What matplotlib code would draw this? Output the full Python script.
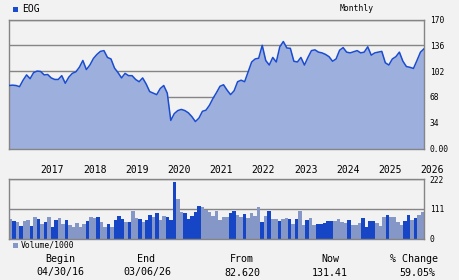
import matplotlib
matplotlib.use("Agg")
import matplotlib.pyplot as plt
import matplotlib.transforms as mtransforms
from matplotlib.patches import Rectangle
import numpy as np

# ---------------- data (monthly, Apr 2016 .. Mar 2026) ----------------
price = [83, 83.5, 83, 81.5, 90, 97, 92, 100, 102, 101.5, 97, 97.5,
         93, 91, 91, 96, 86, 94, 99, 101, 107, 116, 104, 110,
         118.6, 124, 128, 129, 120, 118, 106, 100, 93, 99, 96, 96,
         91, 88, 93, 85, 75, 73, 71, 79, 83, 73, 37, 46,
         50, 51.5, 50, 47, 42, 35.5, 40, 49, 50.5, 57, 66, 73.7,
         82, 84, 77, 71, 76, 88, 90, 88, 101, 114, 118, 119,
         136, 116, 110, 120, 114, 134, 141, 132.5, 132, 115, 114, 120,
         110, 120, 129, 130, 127, 126, 124, 121, 115, 118, 129.5, 133,
         127, 126, 127.5, 129, 126, 127, 134, 123, 126, 127, 128, 113,
         110, 118, 121, 127, 115, 108, 107, 105.5, 116, 127, 131.41]

volume = [74, 67, 63, 47, 67, 70, 47, 81, 74, 55, 62, 81,
          44, 70, 77, 55, 70, 51, 44, 59, 44, 55, 67, 81,
          77, 81, 62, 44, 55, 44, 70, 85, 74, 62, 62, 104,
          77, 74, 62, 70, 89, 81, 96, 70, 85, 81, 70, 212,
          149, 100, 96, 74, 85, 100, 122, 119, 107, 100, 85, 104,
          70, 81, 81, 96, 104, 89, 81, 92, 77, 96, 85, 119,
          62, 85, 104, 74, 74, 66, 74, 77, 74, 55, 74, 104,
          51, 70, 77, 51, 55, 55, 60, 66, 66, 66, 74, 62,
          58, 70, 51, 51, 59, 77, 44, 66, 66, 59, 47, 81,
          89, 81, 81, 62, 51, 66, 89, 70, 77, 89, 100]

# 1 = dark bar, 0 = light bar
volume_dark = [0, 1, 0, 1, 0, 0, 1, 0, 1, 0, 1, 0,
               1, 1, 0, 0, 1, 0, 0, 0, 0, 0, 1, 0,
               0, 1, 0, 0, 1, 0, 1, 1, 1, 0, 1, 0,
               0, 1, 0, 1, 1, 0, 1, 0, 0, 1, 1, 1,
               0, 0, 1, 1, 1, 1, 1, 0, 0, 0, 0, 0,
               0, 0, 0, 1, 1, 0, 0, 1, 0, 0, 0, 0,
               1, 0, 1, 0, 0, 1, 0, 0, 1, 0, 1, 0,
               0, 1, 0, 0, 1, 1, 1, 1, 1, 0, 0, 0,
               0, 1, 0, 0, 0, 1, 1, 1, 1, 0, 0, 0,
               1, 0, 0, 0, 0, 1, 1, 0, 1, 0, 0]

years = ['2017', '2018', '2019', '2020', '2021', '2022', '2023', '2024', '2025', '2026']
year_month_index = [9, 21, 33, 45, 57, 69, 81, 93, 105, 117]

price_ticks = [0, 34, 68, 102, 136, 170]
price_tick_labels = ['0.00', '34', '68', '102', '136', '170']
vol_ticks = [0, 111, 222]
vol_tick_labels = ['0', '111', '222']

ticker = 'EOG'
period = 'Monthly'
vol_label = 'Volume/1000'
summary_heads = ['Begin', 'End', 'From', 'Now', '% Change']
summary_vals = ['04/30/16', '03/06/26', '82.620', '131.41', '59.05%']

# ---------------- style ----------------
BG = '#f2f2f2'
LINE = '#1a4cd0'
FILL = '#9dafdd'
DARK = '#1646c6'
LIGHT = '#8597c6'
GRID = '#858585'
MONO = 'DejaVu Sans Mono'

W, H = 460, 280
fig = plt.figure(figsize=(W / 100, H / 100), dpi=100, facecolor=BG)


def rect(l, t, r, b):
    return [l / W, 1 - b / H, (r - l) / W, (b - t) / H]


def fy(py):
    return 1 - py / H


def fx(px):
    return px / W


# ---------------- price axes ----------------
axp = fig.add_axes(rect(9, 19.5, 424, 148.5))
axp.set_facecolor(BG)
x = np.arange(len(price))
axp.fill_between(x, 0, price, color=FILL, lw=0, zorder=2)
axp.plot(x, price, color=LINE, lw=1.1, zorder=3)
axp.set_xlim(0, len(price) - 1)
axp.set_ylim(0, 170)
axp.set_yticks(price_ticks)
axp.set_yticklabels(price_tick_labels, family=MONO, fontsize=5.7)
axp.yaxis.tick_right()
axp.tick_params(axis='y', length=0, pad=4)
axp.set_xticks([])
axp.grid(axis='y', color=GRID, lw=1.0, zorder=1)
axp.set_axisbelow(True)
for s in axp.spines.values():
    s.set_color(GRID)
    s.set_linewidth(1.0)

# year labels (left aligned at year start)
trans = mtransforms.blended_transform_factory(axp.transData, fig.transFigure)
for lab, mi in zip(years, year_month_index):
    axp.text(mi, fy(170), lab, transform=trans, ha='left', va='center',
             family=MONO, fontsize=7, clip_on=False)

# ---------------- volume axes ----------------
axv = fig.add_axes(rect(9, 179.3, 424, 238.7))
axv.set_facecolor(BG)
xv = np.arange(len(volume)) + 0.5
cols = [DARK if d else LIGHT for d in volume_dark]
axv.bar(xv, volume, width=1.0, color=cols, lw=0, zorder=2)
axv.set_xlim(0, len(volume))
axv.set_ylim(0, 222)
axv.set_yticks(vol_ticks)
axv.set_yticklabels(vol_tick_labels, family=MONO, fontsize=5.7)
axv.yaxis.tick_right()
axv.tick_params(axis='y', length=0, pad=4)
axv.set_xticks([])
axv.grid(axis='y', color=GRID, lw=1.0, zorder=1)
axv.set_axisbelow(True)
for s in axv.spines.values():
    s.set_color(GRID)
    s.set_linewidth(1.0)

# ---------------- header / legend ----------------
fig.patches.append(Rectangle((fx(13), fy(11.5)), 4.5 / W, 4.5 / H,
                             transform=fig.transFigure, color=LINE, lw=0))
fig.text(fx(22), fy(9), ticker, family=MONO, fontsize=7, ha='left', va='center')
fig.text(fx(357), fy(8.5), period, family=MONO, fontsize=5.8, ha='center', va='center')

fig.patches.append(Rectangle((fx(13), fy(247.5)), 4.5 / W, 4.5 / H,
                             transform=fig.transFigure, color=LIGHT, lw=0))
fig.text(fx(20.5), fy(245), vol_label, family=MONO, fontsize=5.8, ha='left', va='center')

# ---------------- summary rows ----------------
head_x = [60, 146.5, 242, 330, 414]
val_x = [60, 147, 242, 329.5, 417]
for hx, h in zip(head_x, summary_heads):
    fig.text(fx(hx), fy(259), h, family=MONO, fontsize=7.2, ha='center', va='center')
for vx, v in zip(val_x, summary_vals):
    fig.text(fx(vx), fy(272.5), v, family=MONO, fontsize=7.2, ha='center', va='center')

fig.savefig('out.png', dpi=100, facecolor=BG)
